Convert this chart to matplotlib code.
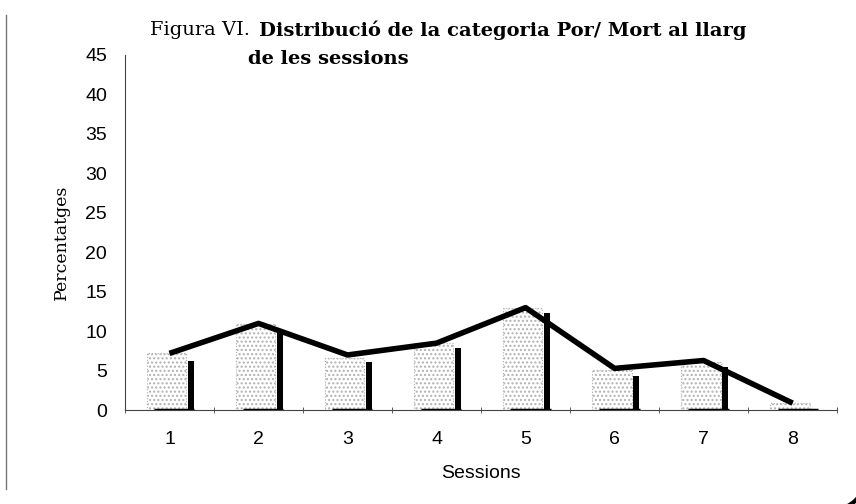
import numpy as np
import matplotlib
matplotlib.use("Agg")
import matplotlib.pyplot as plt
import matplotlib.patches as pat
from matplotlib.lines import Line2D

sessions = ['1', '2', '3', '4', '5', '6', '7', '8']
gray_vals = [7.3, 10.9, 6.6, 8.5, 13.0, 5.1, 6.1, 0.9]
black_vals = [6.3, 10.1, 6.1, 7.9, 12.3, 4.4, 5.5, 0.0]
zero_vals = [0, 0, 0, 0, 0, 0, 0, 0]
line_vals = [7.2, 11.0, 7.0, 8.5, 13.0, 5.3, 6.3, 0.9]
yticks = [0, 5, 10, 15, 20, 25, 30, 35, 40, 45]

tick_font = 'Liberation Sans'
plt.rcParams['hatch.color'] = '#bdbdbd'

x = np.arange(len(sessions))

fig = plt.figure(figsize=(8.56, 5.04), dpi=100)
ax = fig.add_axes([0.146, 0.186, 0.832, 0.705])

# stippled gray bars
ax.bar(x - 0.03, gray_vals, width=0.44, facecolor='white', edgecolor='#b0b0b0',
       hatch='....', linewidth=0.8, linestyle=':', zorder=1)
# zero-height series drawn as thick black base line
ax.hlines(zero_vals, x - 0.17, x + 0.28, colors='black', lw=2.5, zorder=3)
# thin black bars
ax.bar(x + 0.24, black_vals, width=0.075, color='black', zorder=3)
# line
ax.plot(x, line_vals, color='black', lw=4, solid_capstyle='butt', zorder=4)

ax.set_xlim(-0.5, 7.5)
ax.set_ylim(0, 45)
ax.set_yticks(yticks)
ax.set_xticks(x)
ax.set_xticklabels(sessions)
ax.set_xticks(np.arange(-0.5, 8, 1), minor=True)
ax.tick_params(axis='x', which='major', length=0, pad=15, labelsize=14)
ax.tick_params(axis='x', which='minor', length=4, direction='inout', color='#444444')
ax.tick_params(axis='y', length=0, pad=13, labelsize=14)
for lab in ax.get_xticklabels() + ax.get_yticklabels():
    lab.set_family(tick_font)
for s in ['top', 'right']:
    ax.spines[s].set_visible(False)
ax.spines['left'].set_color('#444444')
ax.spines['bottom'].set_color('#444444')

ax.set_xlabel('Sessions', fontsize=14, family=tick_font, labelpad=12)
fig.text(0.072, 0.52, 'Percentatges', rotation=90, fontsize=12.5,
         family='DejaVu Serif', ha='center', va='center')

# title
fig.text(0.175, 0.94, 'Figura VI.', fontsize=14, family='DejaVu Serif',
         ha='left', va='center')
fig.text(0.302, 0.94, 'Distribució de la categoria Por/ Mort al llarg',
         fontsize=14, family='DejaVu Serif', weight='bold', ha='left', va='center')
fig.text(0.29, 0.882, 'de les sessions', fontsize=14, family='DejaVu Serif',
         weight='bold', ha='left', va='center')

# scanned page frame
fig.add_artist(Line2D([0.007, 0.007], [0.03, 0.97], transform=fig.transFigure,
                      color='#777777', lw=1))
fig.add_artist(pat.Arc((0.975, 0.05), 0.07, 0.12, theta1=270, theta2=360,
                       transform=fig.transFigure, color='black', lw=3))

plt.savefig('out.png', dpi=100)
